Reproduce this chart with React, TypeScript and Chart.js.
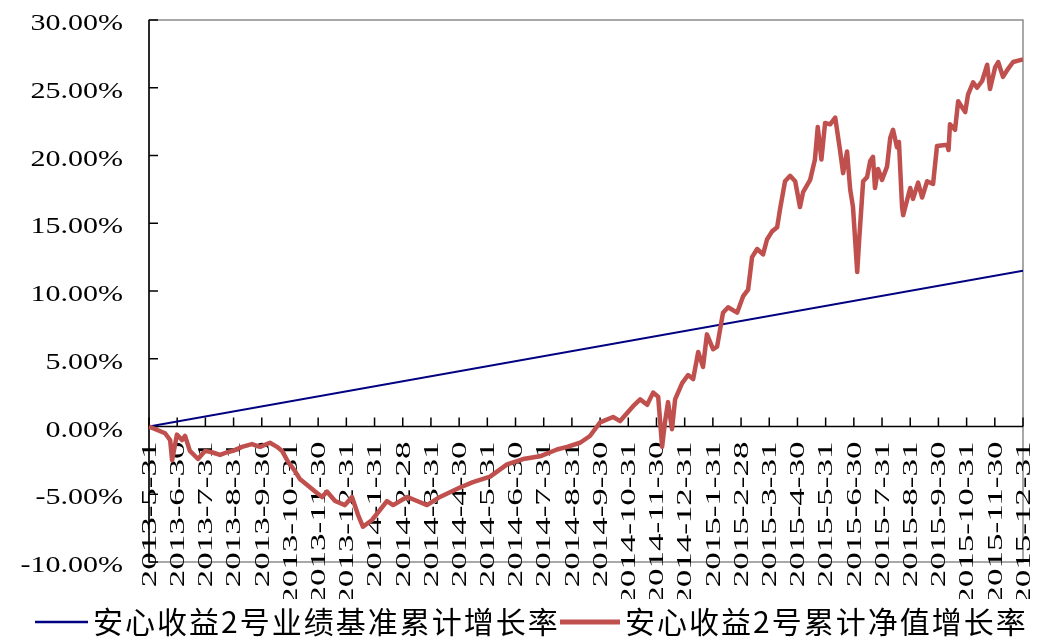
import React, { useEffect, useRef } from 'react';
import { Chart, registerables } from 'chart.js';

Chart.register(...registerables);

// x-axis month-end labels (x value = index in this list)
const monthLabels = [
  '2013-5-31', '2013-6-30', '2013-7-31', '2013-8-31', '2013-9-30', '2013-10-31', '2013-11-30', '2013-12-31',
  '2014-1-31', '2014-2-28', '2014-3-31', '2014-4-30', '2014-5-31', '2014-6-30', '2014-7-31', '2014-8-31',
  '2014-9-30', '2014-10-31', '2014-11-30', '2014-12-31', '2015-1-31', '2015-2-28', '2015-3-31', '2015-4-30',
  '2015-5-31', '2015-6-30', '2015-7-31', '2015-8-31', '2015-9-30', '2015-10-31', '2015-11-30', '2015-12-31',
];

const yTicks = [-10, -5, 0, 5, 10, 15, 20, 25, 30];

const seriesNames = ['安心收益2号业绩基准累计增长率', '安心收益2号累计净值增长率'];

// benchmark (straight line), x in months since 2013-5-31, y in %
const benchX = [0, 31];
const benchY = [0, 11.5];

// fund cumulative NAV growth, x in months since 2013-5-31, y in %
const navX = [
  0, 0.57, 0.75, 0.82, 0.99, 1.17, 1.28, 1.45, 1.74, 1.99, 2.23, 2.52, 2.77, 2.98, 3.3, 3.65, 3.94, 4.29, 4.54, 4.72,
  4.93, 5.18, 5.36, 5.6, 5.89, 6.14, 6.31, 6.6, 6.95, 7.2, 7.41, 7.59, 7.91, 8.44, 8.66, 9.15, 9.51, 9.86, 10.32, 11.03,
  11.49, 12.1, 12.7, 13.27, 13.87, 14.47, 14.83, 15.29, 15.64, 16.0, 16.46, 16.71, 17.17, 17.42, 17.67, 17.88, 18.06, 18.2, 18.3, 18.41,
  18.55, 18.66, 18.91, 19.12, 19.3, 19.48, 19.65, 19.79, 20.01, 20.15, 20.36, 20.54, 20.86, 21.07, 21.25, 21.39, 21.57, 21.78, 21.92, 22.1,
  22.28, 22.38, 22.56, 22.74, 22.92, 23.09, 23.2, 23.45, 23.62, 23.72, 23.85, 23.98, 24.16, 24.34, 24.51, 24.62, 24.76, 24.87, 24.97, 25.12,
  25.19, 25.33, 25.47, 25.58, 25.68, 25.75, 25.86, 26.0, 26.18, 26.29, 26.39, 26.53, 26.6, 26.71, 26.75, 27.0, 27.1, 27.28, 27.42, 27.6,
  27.81, 27.95, 28.31, 28.36, 28.41, 28.59, 28.7, 28.95, 29.05, 29.23, 29.37, 29.55, 29.73, 29.83, 30.01, 30.12, 30.29, 30.47, 30.65, 30.83,
  31,
];
const navY = [
  0, -0.5, -1.0, -2.5, -0.6, -1.0, -0.7, -1.8, -2.4, -1.8, -1.9, -2.1, -1.9, -1.8, -1.5, -1.3, -1.5, -1.2, -1.5, -1.8,
  -2.6, -3.3, -3.9, -4.3, -4.8, -5.2, -4.8, -5.5, -5.8, -5.2, -6.5, -7.4, -6.9, -5.5, -5.8, -5.2, -5.5, -5.8, -5.2, -4.5,
  -4.1, -3.7, -2.8, -2.4, -2.2, -1.7, -1.5, -1.2, -0.7, 0.3, 0.7, 0.4, 1.5, 2.0, 1.6, 2.5, 2.2, -1.5, 0.3, 1.8,
  -0.2, 2.0, 3.2, 3.8, 3.5, 5.5, 4.4, 6.8, 5.7, 5.9, 8.4, 8.8, 8.4, 9.6, 10.1, 12.5, 13.1, 12.7, 13.8, 14.4,
  14.7, 16.0, 18.1, 18.5, 18.1, 16.2, 17.3, 18.2, 19.7, 22.1, 19.7, 22.4, 22.3, 22.8, 20.4, 18.7, 20.3, 17.5, 16.2, 11.4,
  13.8, 18.1, 18.4, 19.6, 19.9, 17.6, 19.0, 18.2, 19.2, 21.3, 21.9, 20.6, 21.0, 16.2, 15.6, 17.6, 16.8, 18.0, 16.9, 18.1,
  17.9, 20.7, 20.8, 20.4, 22.3, 21.9, 24.0, 23.2, 24.5, 25.4, 25.0, 25.5, 26.7, 24.9, 26.5, 26.9, 25.8, 26.4, 26.9, 27.0,
  27.1,
];

const BLUE = '#000080';
const RED = '#C0504D';
const SERIF = '"Liberation Serif", "Times New Roman", serif';

const excelAxes = {
  id: 'excelAxes',
  beforeDatasetsDraw(chart: any) {
    const { ctx, chartArea: ca, scales } = chart;
    const xs = scales.x;
    const ys = scales.y;
    const line = (x1: number, y1: number, x2: number, y2: number) => {
      ctx.beginPath();
      ctx.moveTo(x1, y1);
      ctx.lineTo(x2, y2);
      ctx.stroke();
    };
    ctx.save();
    // plot area border
    ctx.strokeStyle = '#8c8c8c';
    ctx.lineWidth = 1.5;
    ctx.strokeRect(ca.left, ca.top, ca.right - ca.left, ca.bottom - ca.top);
    // y axis line + inward ticks
    ctx.strokeStyle = '#000';
    ctx.lineWidth = 1.5;
    line(ca.left, ca.top, ca.left, ca.bottom);
    yTicks.forEach((v) => {
      const py = ys.getPixelForValue(v);
      line(ca.left, py, ca.left + 9, py);
    });
    // y tick labels
    const yf = 24;
    const ySx = 1.25;
    ctx.fillStyle = '#000';
    ctx.font = `${yf}px ${SERIF}`;
    ctx.textAlign = 'right';
    ctx.textBaseline = 'alphabetic';
    yTicks.forEach((v) => {
      const py = ys.getPixelForValue(v);
      ctx.save();
      ctx.translate(ca.left - 26, py + 0.338 * yf + 2);
      ctx.scale(ySx, 1);
      ctx.fillText(v.toFixed(2) + '%', 0, 0);
      ctx.restore();
    });
    // x axis at 0 with upward ticks
    const y0 = ys.getPixelForValue(0);
    line(ca.left, y0, ca.right, y0);
    monthLabels.forEach((_, i) => {
      const px = xs.getPixelForValue(i);
      line(px, y0, px, y0 - 9);
    });
    // x labels, rotated, clipped by the legend band
    const xf = 20;
    ctx.save();
    ctx.beginPath();
    ctx.rect(0, 0, chart.width, 599);
    ctx.clip();
    ctx.font = `${xf}px ${SERIF}`;
    ctx.textAlign = 'right';
    ctx.textBaseline = 'alphabetic';
    monthLabels.forEach((lab, i) => {
      const px = xs.getPixelForValue(i);
      ctx.save();
      ctx.translate(px, y0 + 15);
      ctx.rotate(-Math.PI / 2);
      ctx.scale(1.75, 1);
      ctx.fillText(lab, 0, 0.338 * xf);
      ctx.restore();
    });
    ctx.restore();
    ctx.restore();
  },
  afterDraw(chart: any) {
    const { ctx } = chart;
    ctx.save();
    ctx.font = '30px "Noto Sans CJK SC"';
    ctx.letterSpacing = '2px';
    ctx.textAlign = 'left';
    ctx.textBaseline = 'middle';
    ctx.fillStyle = '#000';
    const ly = 622;
    const items = [
      { color: BLUE, width: 2.5, x1: 35, x2: 88, name: seriesNames[0] },
      { color: RED, width: 5, x1: 560, x2: 620, name: seriesNames[1] },
    ];
    items.forEach((it) => {
      ctx.strokeStyle = it.color;
      ctx.lineWidth = it.width;
      ctx.beginPath();
      ctx.moveTo(it.x1, ly);
      ctx.lineTo(it.x2, ly);
      ctx.stroke();
      ctx.fillText(it.name, it.x2 + 5, ly);
    });
    ctx.restore();
  },
};

export default function App() {
  const ref = useRef<HTMLCanvasElement | null>(null);
  useEffect(() => {
    if (!ref.current) return;
    const chart = new Chart(ref.current, {
      type: 'line',
      data: {
        datasets: [
          {
            label: seriesNames[0],
            data: benchX.map((x, i) => ({ x, y: benchY[i] })),
            borderColor: BLUE,
            borderWidth: 2,
            pointRadius: 0,
            tension: 0,
            order: 1,
          },
          {
            label: seriesNames[1],
            data: navX.map((x, i) => ({ x, y: navY[i] })),
            borderColor: RED,
            borderWidth: 4.5,
            pointRadius: 0,
            tension: 0,
            borderJoinStyle: 'round',
            order: 0,
          },
        ],
      },
      options: {
        animation: false,
        responsive: false,
        layout: { padding: { left: 149, top: 20, right: 20, bottom: 78 } },
        plugins: { legend: { display: false }, tooltip: { enabled: false } },
        scales: {
          x: { type: 'linear', min: 0, max: monthLabels.length - 1, display: false },
          y: { type: 'linear', min: -10, max: 30, display: false },
        },
      },
      plugins: [excelAxes],
    } as any);
    return () => chart.destroy();
  }, []);
  return (
    <div style={{ position: 'absolute', left: 0, top: 0, width: 1043, height: 640, background: '#fff' }}>
      <canvas ref={ref} width={1043} height={640} style={{ display: 'block' }} />
    </div>
  );
}
